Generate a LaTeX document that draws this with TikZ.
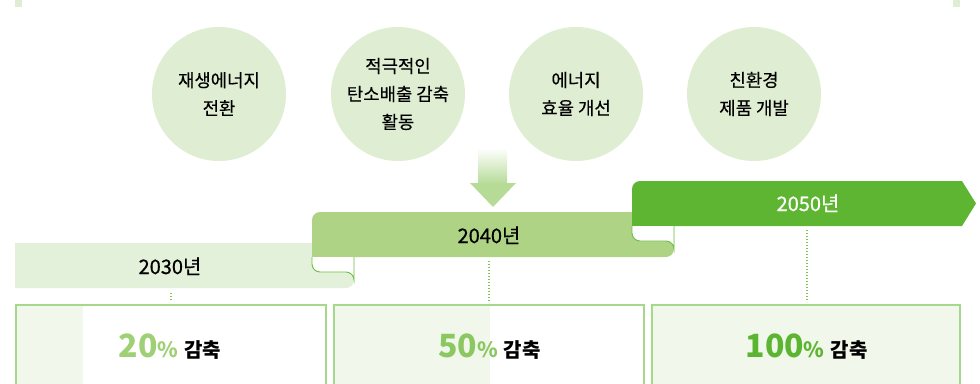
\documentclass[tikz,border=0pt]{standalone}
\usepackage{fontspec}
\setmainfont{Noto Sans CJK KR}
\newfontfamily\krmid[FakeBold=0.6]{Noto Sans CJK KR}
\newfontfamily\krlight[FakeBold=0.25]{Noto Sans CJK KR}
\definecolor{circfill}{RGB}{223,237,211}
\definecolor{arrowgreen}{RGB}{182,219,151}
\definecolor{rib1}{RGB}{228,241,218}
\definecolor{rib2}{RGB}{174,211,132}
\definecolor{rib3}{RGB}{93,181,49}
\definecolor{foldline}{RGB}{109,191,68}
\definecolor{dotgreen}{RGB}{125,196,89}
\definecolor{boxline}{RGB}{165,216,139}
\definecolor{boxfill}{RGB}{241,247,235}
\definecolor{ctwenty}{RGB}{159,208,117}
\definecolor{cfifty}{RGB}{140,200,98}
\definecolor{chundred}{RGB}{92,181,49}
\begin{document}
\begin{tikzpicture}[x=1pt,y=-1pt,
  circnode/.style={circle, fill=circfill, minimum size=134pt, inner sep=0pt, align=center, font=\krlight\fontsize{17.8}{28}\selectfont},
  yeartext/.style={anchor=base, font=\krmid\fontsize{20}{20}\selectfont, inner sep=0pt},
  foldstyle/.style={draw=foldline, line width=0.9pt},
  dotline/.style={draw=dotgreen, line width=1.2pt, dash pattern=on 1pt off 2pt},
  boxstyle/.style={draw=boxline, line width=1.6pt},
  pcttext/.style={anchor=base, inner sep=0pt}
]
\useasboundingbox (0,0) rectangle (980,383);
% top markers
\fill[circfill] (15,0) rectangle (22,7);
\fill[circfill] (953,0) rectangle (960,7);
% circles
\node[circnode] (k1) at (219,94) {재생에너지\\전환};
\node[circnode] (k2) at (398,94) {적극적인\\탄소배출 감축\\활동};
\node[circnode] (k3) at (576,94) {에너지\\효율 개선};
\node[circnode] (k4) at (754,94) {친환경\\제품 개발};
% arrow
\shade[top color=white, bottom color=arrowgreen] (478,148) rectangle (507,184);
\fill[arrowgreen] (470,183) -- (516,183) -- (493,207) -- cycle;
% ribbon 2030
\fill[rib1] (15,243) -- (354,243) -- (354,280) .. controls (354,284.4) and (350.4,288) .. (346,288) -- (15,288) -- cycle;
% ribbon 2040
\fill[rib2] (312,257) -- (312,220) .. controls (312,215.6) and (315.6,212) .. (320,212) -- (674,212) -- (674,249) .. controls (674,253.4) and (670.4,257) .. (666,257) -- cycle;
\fill[white] (312,257) -- (312,264) .. controls (312,268.4) and (315.6,272) .. (320,272) -- (346,272) .. controls (350.4,272) and (354,275.6) .. (354,280) -- (354,257) -- cycle;
\draw[foldstyle] (312,257) -- (312,264) .. controls (312,268.4) and (315.6,272) .. (320,272) -- (346,272) .. controls (350.4,272) and (354,275.6) .. (354,280) -- (354,257);
% ribbon 2050
\fill[rib3] (632,226) -- (632,189) .. controls (632,184.6) and (635.6,181) .. (640,181) -- (962,181) -- (976,203.5) -- (962,226) -- cycle;
\fill[white] (632,226) -- (632,233) .. controls (632,237.4) and (635.6,241) .. (640,241) -- (666,241) .. controls (670.4,241) and (674,244.6) .. (674,249) -- (674,226) -- cycle;
\draw[foldstyle] (632,226) -- (632,233) .. controls (632,237.4) and (635.6,241) .. (640,241) -- (666,241) .. controls (670.4,241) and (674,244.6) .. (674,249) -- (674,226);
% year labels
\node[yeartext] (y1) at (170,274) {2030년};
\node[yeartext] (y2) at (489,243) {2040년};
\node[yeartext, text=white] (y3) at (808,211) {2050년};
% dotted connectors
\coordinate (d1a) at (171,293); \coordinate (d1b) at (171,302);
\coordinate (d2a) at (489,261); \coordinate (d2b) at (489,302);
\coordinate (d3a) at (807,230); \coordinate (d3b) at (807,302);
\draw[dotline] (d1a) -- (d1b);
\draw[dotline] (d2a) -- (d2b);
\draw[dotline] (d3a) -- (d3b);
% boxes
\begin{scope}
\clip (0,0) rectangle (980,383);
\fill[boxfill] (16,305) rectangle (83,395);
\draw[boxstyle] (16,305) rectangle (326,395);
\fill[boxfill] (334,305) rectangle (490,395);
\draw[boxstyle] (334,305) rectangle (644,395);
\fill[boxfill] (652,305) rectangle (960,395);
\draw[boxstyle] (652,305) rectangle (960,395);
\end{scope}
\node[pcttext] (p1) at (170,357) {{\fontsize{32}{32}\selectfont\bfseries\color{ctwenty}20}{\fontsize{21}{21}\selectfont\bfseries\color{ctwenty}\%}\hspace{6pt}{\fontsize{20}{20}\selectfont\bfseries 감축}};
\node[pcttext] (p2) at (489.5,357) {{\fontsize{32}{32}\selectfont\bfseries\color{cfifty}50}{\fontsize{21}{21}\selectfont\bfseries\color{cfifty}\%}\hspace{6pt}{\fontsize{20}{20}\selectfont\bfseries 감축}};
\node[pcttext] (p3) at (806.5,357) {{\fontsize{32}{32}\selectfont\bfseries\color{chundred}100}{\fontsize{21}{21}\selectfont\bfseries\color{chundred}\%}\hspace{6pt}{\fontsize{20}{20}\selectfont\bfseries 감축}};
\end{tikzpicture}
\end{document}
